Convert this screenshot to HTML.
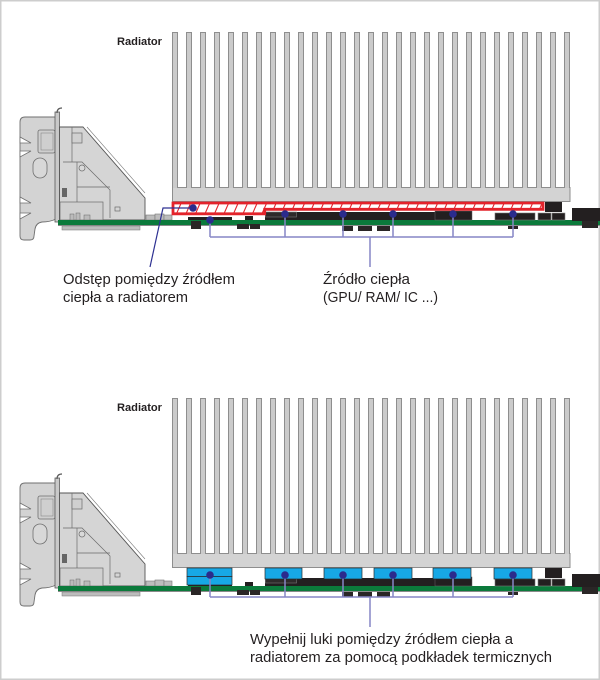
<!DOCTYPE html>
<html><head><meta charset="utf-8">
<style>
html,body{margin:0;padding:0;background:#fff;}
svg{display:block;}
text{font-family:"Liberation Sans",sans-serif;fill:#231f20;}
</style></head><body>
<svg width="600" height="680" viewBox="0 0 600 680" xmlns="http://www.w3.org/2000/svg">
<defs>
<g id="board">
  <!-- bracket plate -->
  <path d="M20,122 Q20,117 25,117 L56,117 L56,219 Q50,222 42,222 Q36,223 35,229 L34,236 Q34,240 30,240 L24,240 Q20,240 20,236 Z" fill="#d3d3d3" stroke="#6f6f6f" stroke-width="0.9"/>
  <polygon points="20,137 31,143 20,143" fill="#fff" stroke="#6f6f6f" stroke-width="0.8"/>
  <polygon points="20,151 31,151 20,157" fill="#fff" stroke="#6f6f6f" stroke-width="0.8"/>
  <polygon points="20,197 31,203 20,203" fill="#fff" stroke="#6f6f6f" stroke-width="0.8"/>
  <polygon points="20,213 31,213 20,219" fill="#fff" stroke="#6f6f6f" stroke-width="0.8"/>
  <rect x="33" y="158" width="14" height="20" rx="7" fill="#d8d8d8" stroke="#6f6f6f" stroke-width="0.8"/>
  <rect x="38" y="130" width="17" height="23" rx="2" fill="#cfcfcf" stroke="#6f6f6f" stroke-width="0.8"/>
  <rect x="41" y="133" width="12" height="17" fill="none" stroke="#888" stroke-width="0.6"/>
  <!-- vertical plate & hook -->
  <rect x="55" y="112" width="4.5" height="110" fill="#c9c9c9" stroke="#5a5a5a" stroke-width="0.8"/>
  <path d="M57,113 Q57,108 62,108" fill="none" stroke="#5a5a5a" stroke-width="1.2"/>
  <!-- triangle body -->
  <path d="M59.5,127 L83,127 L145,198 L145,220 L59.5,220 Z" fill="#d5d5d5" stroke="#555" stroke-width="0.9"/>
  <path d="M87,127 L145,193" fill="none" stroke="#777" stroke-width="0.6"/>
  <path d="M72,127 L72,162 M63,162 L82,162 L110,190 L110,218 M77,187 L110,187 M77,162 L77,218" fill="none" stroke="#6a6a6a" stroke-width="0.7"/>
  <rect x="72" y="133" width="10" height="10" fill="#d0d0d0" stroke="#6a6a6a" stroke-width="0.7"/>
  <circle cx="82" cy="168" r="3" fill="#d9d9d9" stroke="#6a6a6a" stroke-width="0.7"/>
  <rect x="60" y="202" width="43" height="18" fill="#d0d0d0" stroke="#6a6a6a" stroke-width="0.7"/>
  <rect x="115" y="207" width="5" height="4" fill="none" stroke="#6a6a6a" stroke-width="0.7"/>
  <rect x="62" y="188" width="5" height="9" fill="#666"/>
  <rect x="70" y="214" width="4" height="6" fill="#bbb" stroke="#666" stroke-width="0.5"/>
  <rect x="76" y="213" width="4" height="7" fill="#bbb" stroke="#666" stroke-width="0.5"/>
  <rect x="84" y="215" width="6" height="5" fill="#bbb" stroke="#666" stroke-width="0.5"/>
  <!-- small comps left of heatsink -->
  <rect x="146" y="215" width="9" height="5" fill="#bdbdbd" stroke="#777" stroke-width="0.6"/>
  <rect x="155" y="214" width="9" height="6" fill="#bdbdbd" stroke="#777" stroke-width="0.6"/>
  <rect x="164" y="215" width="8" height="5" fill="#bdbdbd" stroke="#777" stroke-width="0.6"/>
  <!-- PCB -->
  <rect x="58" y="220" width="542" height="5" fill="#0b7a3b"/>
  <rect x="58" y="225" width="542" height="1" fill="#8a8a8a"/>
  <!-- below PCB components -->
  <rect x="62" y="226" width="78" height="4" fill="#bcbcbc" stroke="#777" stroke-width="0.5"/>
  <rect x="191" y="221" width="10" height="8" fill="#2a2626"/>
  <rect x="237" y="224" width="12" height="5" fill="#2a2626"/>
  <rect x="250" y="224" width="10" height="5" fill="#2a2626"/>
  <rect x="342" y="226" width="11" height="5" fill="#2a2626"/>
  <rect x="358" y="226" width="14" height="5" fill="#2a2626"/>
  <rect x="377" y="226" width="13" height="5" fill="#2a2626"/>
  <rect x="508" y="226" width="10" height="3" fill="#2a2626"/>
  <rect x="582" y="221" width="16" height="7" fill="#2a2626"/>
  <!-- chips on PCB -->
  <rect x="188" y="217" width="44" height="3" fill="#231f20"/>
  <rect x="245" y="216" width="8" height="4" fill="#231f20"/>
  <rect x="265" y="212" width="207" height="8" fill="#231f20"/>
  <rect x="265.5" y="212" width="31" height="5" fill="#2e2a2a" stroke="#777" stroke-width="0.6"/>
  <rect x="435" y="211" width="37" height="9" fill="#231f20" stroke="#666" stroke-width="0.5"/>
  <rect x="495" y="213" width="40" height="7" fill="#231f20" stroke="#777" stroke-width="0.6"/>
  <rect x="545" y="202" width="17" height="10" fill="#231f20"/>
  <rect x="538" y="213" width="13" height="7" fill="#231f20" stroke="#888" stroke-width="0.6"/>
  <rect x="552" y="213" width="13" height="7" fill="#231f20" stroke="#888" stroke-width="0.6"/>
  <rect x="572" y="208" width="28" height="13" fill="#231f20"/>
  <!-- heatsink -->
  <g fill="#cbcbcb" stroke="#8e8e8e" stroke-width="1">
    <rect x="172.5" y="32.5" width="5" height="160"/><rect x="186.5" y="32.5" width="5" height="160"/>
    <rect x="200.5" y="32.5" width="5" height="160"/><rect x="214.5" y="32.5" width="5" height="160"/>
    <rect x="228.5" y="32.5" width="5" height="160"/><rect x="242.5" y="32.5" width="5" height="160"/>
    <rect x="256.5" y="32.5" width="5" height="160"/><rect x="270.5" y="32.5" width="5" height="160"/>
    <rect x="284.5" y="32.5" width="5" height="160"/><rect x="298.5" y="32.5" width="5" height="160"/>
    <rect x="312.5" y="32.5" width="5" height="160"/><rect x="326.5" y="32.5" width="5" height="160"/>
    <rect x="340.5" y="32.5" width="5" height="160"/><rect x="354.5" y="32.5" width="5" height="160"/>
    <rect x="368.5" y="32.5" width="5" height="160"/><rect x="382.5" y="32.5" width="5" height="160"/>
    <rect x="396.5" y="32.5" width="5" height="160"/><rect x="410.5" y="32.5" width="5" height="160"/>
    <rect x="424.5" y="32.5" width="5" height="160"/><rect x="438.5" y="32.5" width="5" height="160"/>
    <rect x="452.5" y="32.5" width="5" height="160"/><rect x="466.5" y="32.5" width="5" height="160"/>
    <rect x="480.5" y="32.5" width="5" height="160"/><rect x="494.5" y="32.5" width="5" height="160"/>
    <rect x="508.5" y="32.5" width="5" height="160"/><rect x="522.5" y="32.5" width="5" height="160"/>
    <rect x="536.5" y="32.5" width="5" height="160"/><rect x="550.5" y="32.5" width="5" height="160"/>
    <rect x="564.5" y="32.5" width="5" height="160"/>
  </g>
  <rect x="172" y="188" width="398.5" height="13.5" fill="#d3d3d3"/>
  <path d="M172.5,187 L172.5,201.5 L570,201.5 L570,187" fill="none" stroke="#8e8e8e" stroke-width="1"/>
  <line x1="178" y1="187.5" x2="564" y2="187.5" stroke="#8e8e8e" stroke-width="1" stroke-dasharray="8 6"/>
</g>
<clipPath id="redclip"><path d="M173,203 L543,203 L543,209.3 L264.7,209.3 L264.7,213.8 L173,213.8 Z"/></clipPath>
</defs>

<rect x="0.75" y="0.75" width="598.5" height="678.5" fill="#fff" stroke="#cdcdcd" stroke-width="1.5"/>

<use href="#board"/>
<use href="#board" transform="translate(0,366)"/>

<!-- Diagram 1: red gap box -->
<path d="M173,203 L543,203 L543,209.3 L264.7,209.3 L264.7,213.8 L173,213.8 Z" fill="#fff"/>
<g clip-path="url(#redclip)" stroke="#e3232b" stroke-width="1.1">
  <path d="M166,216 L173,200 M175.5,216 L182.5,200 M185,216 L192,200 M194.5,216 L201.5,200 M204,216 L211,200 M213.5,216 L220.5,200 M223,216 L230,200 M232.5,216 L239.5,200 M242,216 L249,200 M251.5,216 L258.5,200 M261,216 L268,200 M270.5,216 L277.5,200 M280,216 L287,200 M289.5,216 L296.5,200 M299,216 L306,200 M308.5,216 L315.5,200 M318,216 L325,200 M327.5,216 L334.5,200 M337,216 L344,200 M346.5,216 L353.5,200 M356,216 L363,200 M365.5,216 L372.5,200 M375,216 L382,200 M384.5,216 L391.5,200 M394,216 L401,200 M403.5,216 L410.5,200 M413,216 L420,200 M422.5,216 L429.5,200 M432,216 L439,200 M441.5,216 L448.5,200 M451,216 L458,200 M460.5,216 L467.5,200 M470,216 L477,200 M479.5,216 L486.5,200 M489,216 L496,200 M498.5,216 L505.5,200 M508,216 L515,200 M517.5,216 L524.5,200 M527,216 L534,200 M536.5,216 L543.5,200"/>
</g>
<path d="M173,203 L543,203 L543,209.3 L264.7,209.3 L264.7,213.8 L173,213.8 Z" fill="none" stroke="#e3232b" stroke-width="2.8"/>

<!-- Diagram 2: blue pads -->
<g fill="#17a8e6" stroke="#2a2a2a" stroke-width="0.7">
  <rect x="187" y="568" width="45" height="8.5"/>
  <rect x="187" y="576.5" width="45" height="8.5"/>
  <rect x="265" y="568" width="37" height="11"/>
  <rect x="324" y="568" width="38" height="11"/>
  <rect x="374" y="568" width="38" height="11"/>
  <rect x="433" y="568" width="38" height="11"/>
  <rect x="494" y="568" width="38" height="11"/>
</g>

<!-- connector lines diagram 1 -->
<path d="M210,220 V237 M285,214 V237 M343,214 V237 M393,214 V237 M453,214 V237 M513,214 V237 M210,237 H513 M370,237 V267" fill="none" stroke="#8686c6" stroke-width="1.5"/>
<path d="M193,208 H163 L150,267" fill="none" stroke="#2e3192" stroke-width="1.2"/>
<g fill="#2b2b8c">
  <circle cx="193" cy="208" r="3.8"/>
  <circle cx="210" cy="220" r="3.8"/>
  <circle cx="285" cy="214" r="3.8"/>
  <circle cx="343" cy="214" r="3.8"/>
  <circle cx="393" cy="214" r="3.8"/>
  <circle cx="453" cy="214" r="3.8"/>
  <circle cx="513" cy="214" r="3.8"/>
</g>

<!-- connector lines diagram 2 -->
<path d="M210,575 V597 M285,575 V597 M343,575 V597 M393,575 V597 M453,575 V597 M513,575 V597 M210,597 H513 M370,597 V627" fill="none" stroke="#8686c6" stroke-width="1.5"/>
<g fill="#2b2b8c">
  <circle cx="210" cy="575" r="3.8"/>
  <circle cx="285" cy="575" r="3.8"/>
  <circle cx="343" cy="575" r="3.8"/>
  <circle cx="393" cy="575" r="3.8"/>
  <circle cx="453" cy="575" r="3.8"/>
  <circle cx="513" cy="575" r="3.8"/>
</g>

<!-- labels -->
<text x="117" y="45" font-size="11" font-weight="bold" textLength="45" lengthAdjust="spacingAndGlyphs">Radiator</text>
<text x="117" y="411" font-size="11" font-weight="bold" textLength="45" lengthAdjust="spacingAndGlyphs">Radiator</text>

<text x="63" y="284" font-size="15" textLength="172" lengthAdjust="spacingAndGlyphs">Odstęp pomiędzy źródłem</text>
<text x="63" y="302" font-size="15" textLength="125" lengthAdjust="spacingAndGlyphs">ciepła a radiatorem</text>

<text x="323" y="284" font-size="15" textLength="87" lengthAdjust="spacingAndGlyphs">Źródło ciepła</text>
<text x="323" y="302" font-size="15" textLength="115" lengthAdjust="spacingAndGlyphs">(GPU/ RAM/ IC ...)</text>

<text x="250" y="644" font-size="15" textLength="263" lengthAdjust="spacingAndGlyphs">Wypełnij luki pomiędzy źródłem ciepła a</text>
<text x="250" y="662" font-size="15" textLength="302" lengthAdjust="spacingAndGlyphs">radiatorem za pomocą podkładek termicznych</text>
</svg>
</body></html>
